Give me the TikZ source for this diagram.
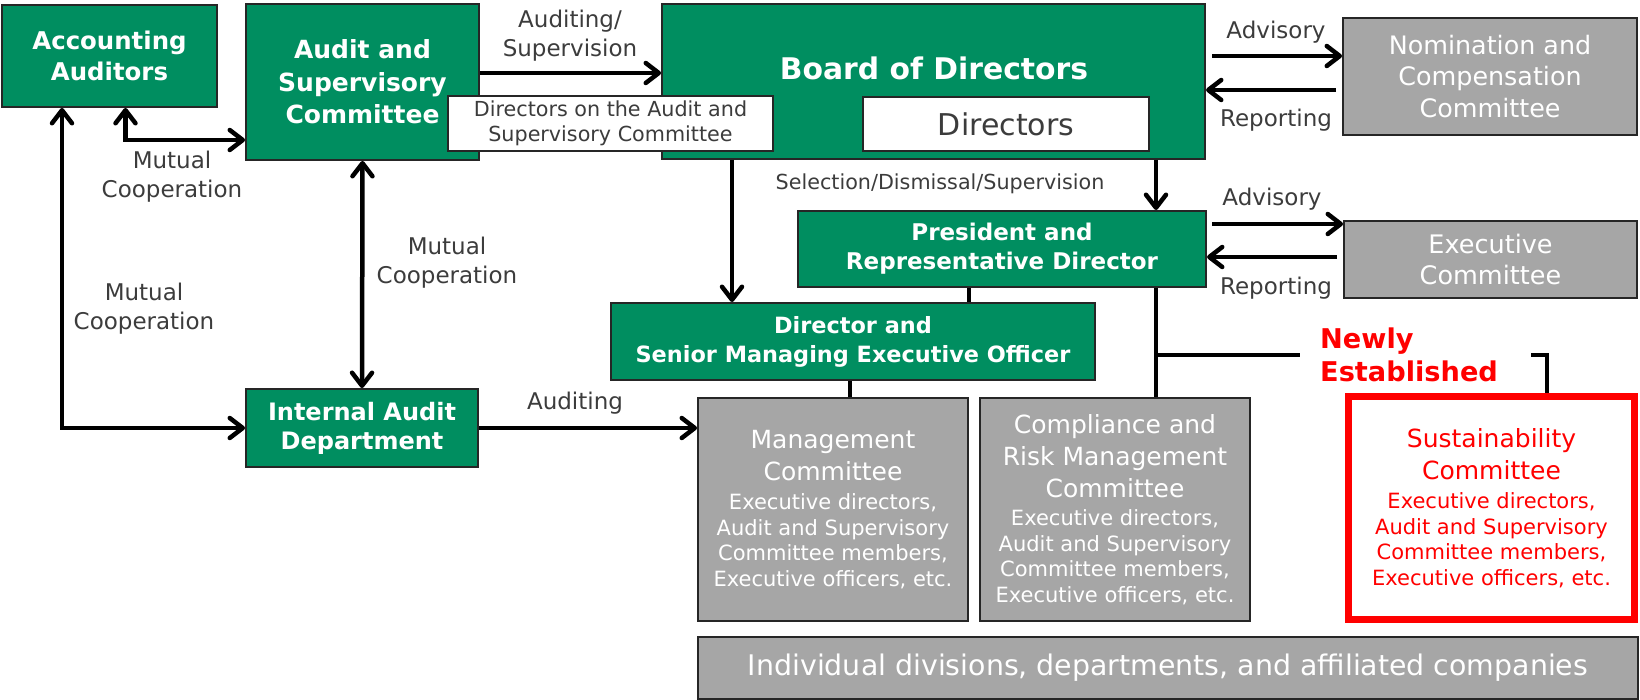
\documentclass[tikz,border=0pt]{standalone}
\usepackage{fontspec}
\setmainfont{DejaVu Sans}
\usetikzlibrary{arrows.meta}
\definecolor{mygreen}{RGB}{0,142,96}
\definecolor{mygray}{RGB}{166,166,166}
\definecolor{lblgray}{RGB}{60,60,60}
\definecolor{myred}{RGB}{255,0,0}
\newcommand{\fsz}[2]{\fontsize{#1}{#2}\selectfont}
\newcommand{\ttl}{\fsz{25}{31.5}}
\begin{document}
\begin{tikzpicture}[x=1pt,y=-1pt,
  gbox/.style={draw=black!85,line width=2pt,fill=mygreen,text=white,align=center,inner sep=0pt},
  graybox/.style={draw=black!85,line width=2pt,fill=mygray,text=white,align=center,inner sep=0pt},
  wbox/.style={draw=black!85,line width=2pt,fill=white,text=lblgray,align=center,inner sep=0pt},
  conn/.style={line width=4.5pt},
  tipb/.tip={Straight Barb[length=13pt,width=20pt,round]},
  arr/.style={conn,-tipb},
  dbl/.style={conn,tipb-tipb},
  lbl/.style={text=lblgray,align=center,inner sep=0pt,font=\fsz{23}{29}},
]
\useasboundingbox (0,0) rectangle (1640,700);

% boxes
\node[gbox,minimum width=215pt,minimum height=102pt,font=\bfseries\fsz{24.4}{31}] (acc) at (109.5,56) {Accounting\\Auditors};
\node[gbox,minimum width=233pt,minimum height=156pt,font=\bfseries\fsz{25}{32.5}] (asc) at (362.5,82) {Audit and\\Supervisory\\Committee};
\node[gbox,minimum width=543pt,minimum height=155pt] (bod) at (933.5,81.5) {};
\node[text=white,inner sep=0pt,font=\bfseries\fsz{29.8}{36}] (bodt) at (934,68) {Board of Directors};
\node[wbox,minimum width=286pt,minimum height=54pt,font=\fsz{30}{36}] (dirs) at (1006,124) {Directors};
\node[wbox,minimum width=325pt,minimum height=55pt,font=\fsz{20.7}{25}] (dasc) at (610.5,123.5) {Directors on the Audit and\\Supervisory Committee};
\node[graybox,minimum width=294pt,minimum height=117pt,font=\fsz{25.4}{31.5}] (ncc) at (1490,76.5) {Nomination and\\Compensation\\Committee};
\node[gbox,minimum width=408pt,minimum height=76pt,font=\bfseries\fsz{23}{29}] (pres) at (1002,249) {President and\\Representative Director};
\node[graybox,minimum width=293pt,minimum height=77pt,font=\fsz{25.5}{31}] (exec) at (1490.5,259.5) {Executive\\Committee};
\node[gbox,minimum width=484pt,minimum height=77pt,font=\bfseries\fsz{22.4}{29}] (smeo) at (853,341.5) {Director and\\Senior Managing Executive Officer};
\node[gbox,minimum width=232pt,minimum height=78pt,font=\bfseries\fsz{24}{29}] (iad) at (362,428) {Internal Audit\\Department};
\node[graybox,minimum width=270pt,minimum height=223pt,font=\fsz{21}{25.5}] (mgmt) at (833,509.5)
  {\ttl Management\\[6.5pt]\ttl Committee\\[4pt]Executive directors,\\Audit and Supervisory\\Committee members,\\Executive officers, etc.};
\node[graybox,minimum width=270pt,minimum height=223pt,font=\fsz{21}{25.5}] (comp) at (1115,509.5)
  {\ttl Compliance and\\[6.5pt]\ttl Risk Management\\[6.5pt]\ttl Committee\\[3pt]Executive directors,\\Audit and Supervisory\\Committee members,\\Executive officers, etc.};
\node[draw=myred,line width=7pt,fill=white,text=myred,align=center,inner sep=0pt,minimum width=286pt,minimum height=223pt,font=\fsz{21}{25.5}] (sust) at (1491.5,508)
  {\ttl Sustainability\\[6.5pt]\ttl Committee\\[4pt]Executive directors,\\Audit and Supervisory\\Committee members,\\Executive officers, etc.};
\node[graybox,minimum width=940pt,minimum height=62pt,font=\fsz{28.4}{34}] (indiv) at (1168,668) {Individual divisions, departments, and affiliated companies};

% connectors
\draw[arr] ([yshift=9pt]asc.east) -- ([yshift=8.5pt]bod.west);
\draw[arr] ([xshift=6pt,yshift=25.5pt]bod.east) -- ([yshift=20.5pt]ncc.west);
\draw[arr] ([xshift=-6pt,yshift=-13.5pt]ncc.west) -- ([yshift=-8.5pt]bod.east);
\draw[arr] ([xshift=222.5pt]bod.south) -- ([xshift=154pt]pres.north);
\draw[arr] ([xshift=5pt,yshift=25pt]pres.east) -- ([yshift=35.5pt]exec.west);
\draw[arr] ([xshift=-6pt,yshift=2.5pt]exec.west) -- ([yshift=-8pt]pres.east);
\draw[arr] ([xshift=-201.5pt]bod.south) -- ([xshift=-121pt]smeo.north);
\draw[conn] ([xshift=-33pt]pres.south) -- ([xshift=116pt]smeo.north);
\draw[conn] ([xshift=-3pt]smeo.south) -- ([xshift=17pt]mgmt.north);
\draw[conn] ([xshift=154pt]pres.south) -- ([xshift=41pt]comp.north);
\coordinate (br) at (1156,355);
\coordinate (brl) at (1300,355);
\coordinate (brr) at (1531,355);
\draw[conn] (br) -- (brl);
\draw[conn] (brr) -| ([xshift=55.5pt]sust.north);
\draw[dbl] (asc.south) -- (iad.north);
\draw[dbl] ([xshift=16pt]acc.south) |- ([yshift=-58pt]asc.west);
\draw[dbl] ([xshift=-47.5pt]acc.south) |- (iad.west);
\draw[arr] (iad.east) -- ([yshift=81.5pt]mgmt.west);

% labels
\node[lbl] (l1) at (570,36) {Auditing/\\Supervision};
\node[lbl] (l2) at (1276,32) {Advisory};
\node[lbl] (l3) at (1276,120) {Reporting};
\node[lbl] (l4) at (1272,199) {Advisory};
\node[lbl] (l5) at (1276,288) {Reporting};
\node[lbl,font=\fsz{20.7}{25}] (l6) at (940,184) {Selection/Dismissal/Supervision};
\node[lbl] (l7) at (172,177) {Mutual\\Cooperation};
\node[lbl] (l8) at (447,263) {Mutual\\Cooperation};
\node[lbl] (l9) at (144,309) {Mutual\\Cooperation};
\node[lbl] (l10) at (575,403) {Auditing};
\node[text=myred,align=left,anchor=west,inner sep=0pt,font=\bfseries\fsz{27.2}{33}] (newly) at (1320,354.5) {Newly\\Established};
\end{tikzpicture}
\end{document}
